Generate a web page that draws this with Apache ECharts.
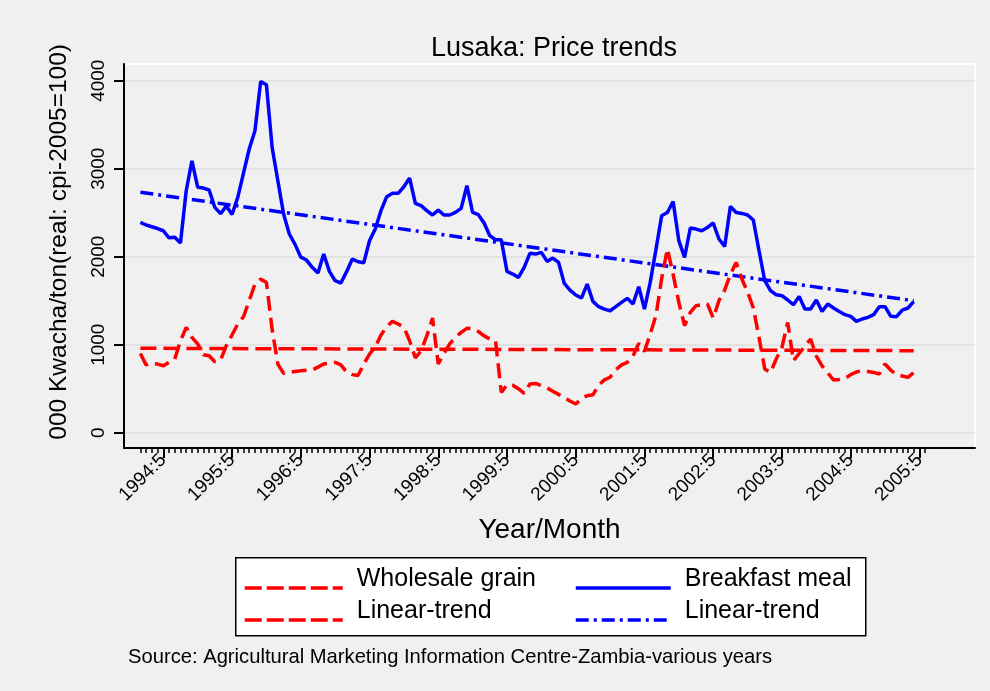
<!DOCTYPE html>
<html>
<head>
<meta charset="utf-8">
<script src="https://cdn.jsdelivr.net/npm/echarts@6/dist/echarts.min.js"></script>
<style>
html,body{margin:0;padding:0;background:#f0f0f0;}
#chart{width:990px;height:691px;}
</style>
</head>
<body>
<div id="chart"></div>
<script>
// ---- data (monthly, 1994:1 .. 2005:4) ----
const startYear = 1994;
const startMonth = 1;
const grainPrices = [
 901,770,790,780,761,799,837,1045,1197,1083,1010,886,
 875,807,826,989,1110,1235,1318,1500,1690,1747,1708,1174,
 779,674,685,695,705,710,712,745,781,790,799,770,
 690,660,650,781,894,970,1110,1205,1265,1235,1197,1045,
 850,930,1100,1303,781,900,1010,1083,1140,1186,1182,1150,
 1100,1065,1045,458,545,540,500,447,553,560,535,508,
 470,435,400,360,326,390,420,430,540,600,630,715,
 770,800,870,1015,924,1121,1330,1750,2090,1800,1480,1216,
 1367,1443,1455,1462,1303,1500,1620,1800,1935,1747,1600,1417,
 1083,724,685,837,969,1253,818,900,980,1065,870,760,
 680,599,605,615,660,690,705,695,685,667,781,710,
 660,645,628,685
];
const mealPrices = [
 2390,2360,2340,2320,2295,2215,2220,2155,2750,3090,2790,2780,
 2758,2560,2490,2575,2480,2674,2950,3224,3432,3992,3955,3242,
 2864,2485,2258,2140,1995,1962,1879,1815,2030,1833,1727,1701,
 1830,1973,1943,1932,2182,2314,2523,2682,2720,2720,2795,2894,
 2606,2580,2523,2474,2530,2474,2474,2503,2549,2807,2503,2477,
 2383,2239,2193,2193,1833,1803,1765,1879,2038,2030,2049,1947,
 1985,1936,1697,1621,1565,1530,1689,1492,1432,1405,1386,1432,
 1481,1527,1462,1659,1405,1708,2080,2466,2503,2628,2182,1992,
 2326,2314,2295,2333,2383,2201,2117,2572,2503,2492,2474,2417,
 2068,1727,1614,1568,1557,1508,1455,1549,1405,1405,1508,1378,
 1462,1417,1378,1341,1322,1265,1292,1311,1341,1432,1432,1322,
 1318,1394,1417,1489
];
const grainTrendEnds = [959, 932];   // linear trend at first and last month
const mealTrendEnds = [2732, 1500];
const tickLabels = ['1994:5','1995:5','1996:5','1997:5','1998:5','1999:5','2000:5','2001:5','2002:5','2003:5','2004:5','2005:5'];
const yTicks = [0, 1000, 2000, 3000, 4000];
const minorTickCount = 138; // monthly ticks 1994:1 .. 2005:6

// ---- helpers ----
function monthIndex(label) {
  const [y, m] = label.split(':').map(Number);
  return (y - startYear) * 12 + (m - startMonth);
}
const majorIdx = tickLabels.map(monthIndex);
const minorIdx = Array.from({length: minorTickCount}, (_, i) => i);
const lastIdx = grainPrices.length - 1;
const grainData = grainPrices.map((v, i) => [i, v]);
const mealData = mealPrices.map((v, i) => [i, v]);
const grainTrend = [[0, grainTrendEnds[0]], [lastIdx, grainTrendEnds[1]]];
const mealTrend = [[0, mealTrendEnds[0]], [lastIdx, mealTrendEnds[1]]];

const FONT = '"Liberation Sans", Arial, sans-serif';
const chart = echarts.init(document.getElementById('chart'), null, {renderer: 'canvas'});
const xMin = -2.86, xMax = 145.7;

function legendRow(seriesName, label, left, top, width, lineType) {
  const lg = {
    data: [seriesName], orient: 'vertical', left: left, top: top, padding: 0,
    itemWidth: width, itemHeight: 14,
    itemStyle: {opacity: 0},
    lineStyle: {width: 3.5},
    formatter: () => '{t|' + label + '}',
    textStyle: {color: '#000', fontFamily: FONT,
      rich: {t: {fontSize: 25, color: '#000', fontFamily: FONT, padding: [0, 0, 18, 9]}}},
    selectedMode: false, z: 10
  };
  if (lineType) lg.lineStyle.type = lineType;
  return lg;
}

chart.setOption({
  backgroundColor: '#f0f0f0',
  animation: false,
  textStyle: {fontFamily: FONT, color: '#000'},
  title: {
    text: 'Lusaka: Price trends',
    left: 549, textAlign: 'center', top: 30,
    textStyle: {fontFamily: FONT, fontSize: 27, fontWeight: 'normal', color: '#000'}
  },
  grid: {
    left: 124, right: 15, top: 64, bottom: 243,
    show: true, backgroundColor: '#f0f0f0', borderColor: '#ffffff', borderWidth: 2
  },
  xAxis: [
    {
      type: 'value', min: xMin, max: xMax,
      axisLine: {show: true, onZero: false, lineStyle: {color: '#000', width: 2}},
      axisTick: {show: true, customValues: majorIdx, length: 10, lineStyle: {color: '#000', width: 2}},
      axisLabel: {
        customValues: majorIdx, rotate: 45, margin: 9, fontSize: 19, color: '#000', fontFamily: FONT,
        formatter: v => tickLabels[majorIdx.indexOf(Math.round(v))] || ''
      },
      splitLine: {show: false},
      name: 'Year/Month', nameLocation: 'middle', nameGap: 68,
      nameTextStyle: {fontSize: 28, color: '#000', fontFamily: FONT}
    },
    {
      type: 'value', min: xMin, max: xMax, position: 'bottom',
      axisLine: {show: false, onZero: false},
      axisTick: {show: true, customValues: minorIdx, length: 5, lineStyle: {color: '#000', width: 1.5}},
      axisLabel: {show: false},
      splitLine: {show: false}
    }
  ],
  yAxis: {
    type: 'value', min: -174, max: 4190,
    axisLine: {show: true, onZero: false, lineStyle: {color: '#000', width: 2}},
    axisTick: {show: true, customValues: yTicks, length: 10, lineStyle: {color: '#000', width: 2}},
    axisLabel: {customValues: yTicks, rotate: 90, margin: 16, fontSize: 19, color: '#000', fontFamily: FONT,
                align: 'center', verticalAlign: 'bottom', formatter: v => String(v)},
    splitLine: {show: true, lineStyle: {color: '#e2e2e2', width: 2}}
  },
  legend: [
    legendRow('Wholesale grain', 'Wholesale grain', 243, 566.5, 98, [17, 5]),
    legendRow('Grain trend', 'Linear-trend', 243, 598.5, 98, [17, 5]),
    legendRow('Breakfast meal', 'Breakfast meal', 574, 566.5, 95, null),
    legendRow('Meal trend', 'Linear-trend', 574, 598.5, 95, null)
  ],
  graphic: [
    {type: 'rect', left: 235, top: 557, shape: {width: 630, height: 78},
     style: {fill: '#ffffff', stroke: '#000', lineWidth: 1.5}, z: 0},
    {type: 'text', left: 47, top: 44, rotation: Math.PI / 2, z: 5,
     style: {text: '000 Kwacha/ton(real: cpi-2005=100)', font: '24.5px "Liberation Sans", Arial, sans-serif', fill: '#000'},
     originX: 0, originY: 0},
    {type: 'text', left: 128, top: 647, z: 5,
     style: {text: 'Source: Agricultural Marketing Information Centre-Zambia-various years', font: '20.2px "Liberation Sans", Arial, sans-serif', fill: '#000'}}
  ],
  series: [
    {name: 'Wholesale grain', type: 'line', data: grainData, symbol: 'none', color: '#ff0000',
     lineStyle: {color: '#ff0000', width: 3.5, type: [15, 7]}, z: 3},
    {name: 'Grain trend', type: 'line', data: grainTrend, symbol: 'none', color: '#ff0000',
     lineStyle: {color: '#ff0000', width: 3.5, type: [16, 7]}, z: 2},
    {name: 'Breakfast meal', type: 'line', data: mealData, symbol: 'none', color: '#0000ff',
     lineStyle: {color: '#0000ff', width: 3.5, type: 'solid'}, z: 4},
    {name: 'Meal trend', type: 'line', data: mealTrend, symbol: 'none', color: '#0000ff',
     lineStyle: {color: '#0000ff', width: 3.5, type: [13, 5, 3, 5]}, z: 2}
  ]
});
</script>
</body>
</html>
